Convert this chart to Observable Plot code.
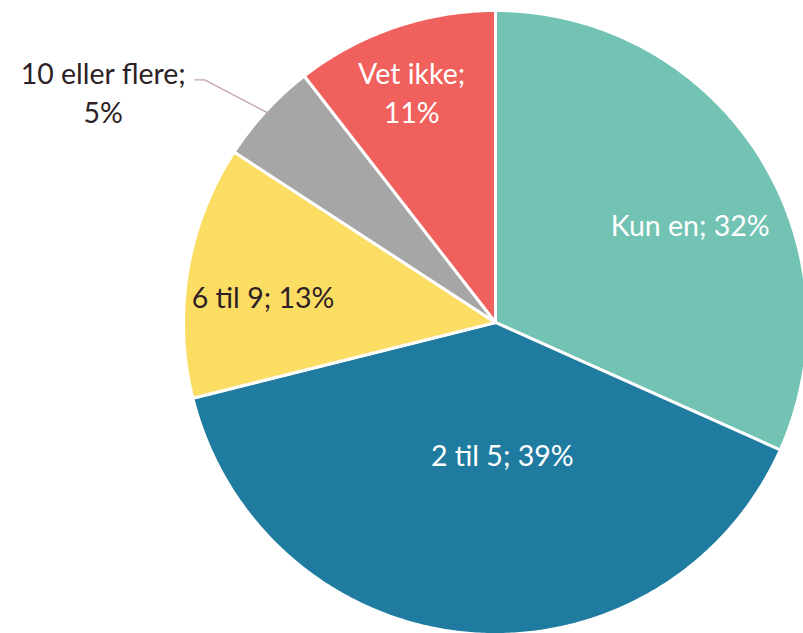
<!DOCTYPE html>
<html>
<head>
<meta charset="utf-8">
<script src="https://cdn.jsdelivr.net/npm/d3@7"></script>
<script src="https://cdn.jsdelivr.net/npm/@observablehq/plot@0.6"></script>
<style>
  html, body { margin: 0; padding: 0; background: #fff; }
  #chart svg { display: block; }
</style>
</head>
<body>
<div id="chart"></div>
<script>
// Data
const categories = ["Kun en", "2 til 5", "6 til 9", "10 eller flere", "Vet ikke"];
const values = [31.7, 39.4, 13.1, 5.3, 10.5];
const colors = ["#72c3b4", "#1f7ba0", "#fcdd63", "#a6a6a6", "#f0605c"];
const labelColors = ["#ffffff", "#ffffff", "#2e1f26", "#2e1f26", "#ffffff"];

// Label layout (radius fraction, angle nudge in degrees) — layout only
const labelRadius = [0.70, 0.42, 0.75, 1.0, 0.79];
const labelNudge = [6, -8, -3, 0, -1];

const W = 803, H = 633;
const cx = 495, cy = 322, R = 312;

const pie = d3.pie().sort(null).value(d => d.value);
const rows = categories.map((c, i) => ({name: c, value: values[i], color: colors[i], lc: labelColors[i], i}));
const arcs = pie(rows);

// Build slice polygons in unit coordinates (angle clockwise from top)
const polys = [];
arcs.forEach(a => {
  polys.push({name: a.data.name, x: 0, y: 0, color: a.data.color});
  const n = Math.max(2, Math.ceil((a.endAngle - a.startAngle) / (Math.PI / 360)));
  for (let k = 0; k <= n; k++) {
    const t = a.startAngle + (a.endAngle - a.startAngle) * k / n;
    polys.push({name: a.data.name, x: Math.sin(t), y: Math.cos(t), color: a.data.color});
  }
});

// Labels
const labels = [];
const leader = [];
arcs.forEach((a, i) => {
  const mid = (a.startAngle + a.endAngle) / 2 + labelNudge[i] * Math.PI / 180;
  const pct = Math.round(a.data.value) + "%";
  if (a.data.name === "10 eller flere") {
    const p0 = {x: Math.sin(mid) * 0.99, y: Math.cos(mid) * 0.99};
    const p1 = {x: Math.sin(mid) * 1.22 - 0.035, y: Math.cos(mid) * 1.22 - 0.049};
    const p2 = {x: p1.x - 0.032, y: p1.y};
    leader.push(p0, p1, p2);
    labels.push({x: p2.x - 0.293, y: p2.y - 0.035, text: a.data.name + ";\n" + pct, fill: a.data.lc});
  } else if (a.data.name === "Vet ikke") {
    const r = labelRadius[i];
    labels.push({x: Math.sin(mid) * r, y: Math.cos(mid) * r, text: a.data.name + ";\n" + pct, fill: a.data.lc});
  } else {
    const r = labelRadius[i];
    labels.push({x: Math.sin(mid) * r, y: Math.cos(mid) * r, text: a.data.name + "; " + pct, fill: a.data.lc});
  }
});

const chart = Plot.plot({
  width: W,
  height: H,
  margin: 0,
  x: {domain: [-cx / R, (W - cx) / R], axis: null},
  y: {domain: [-(H - cy) / R, cy / R], axis: null},
  marks: [
    Plot.line(polys, {x: "x", y: "y", z: "name", fill: "color", stroke: "#ffffff", strokeWidth: 3, curve: "linear-closed", strokeLinejoin: "round"}),
    Plot.line(leader, {x: "x", y: "y", stroke: "#c4a4ad", strokeWidth: 1.3}),
    Plot.text(labels, {x: "x", y: "y", text: "text", fill: "fill", fontSize: 28.5, lineHeight: 1.36, fontFamily: "Lato, 'Open Sans', sans-serif", textAnchor: "middle"})
  ]
});
document.getElementById("chart").appendChild(chart);
</script>
</body>
</html>
